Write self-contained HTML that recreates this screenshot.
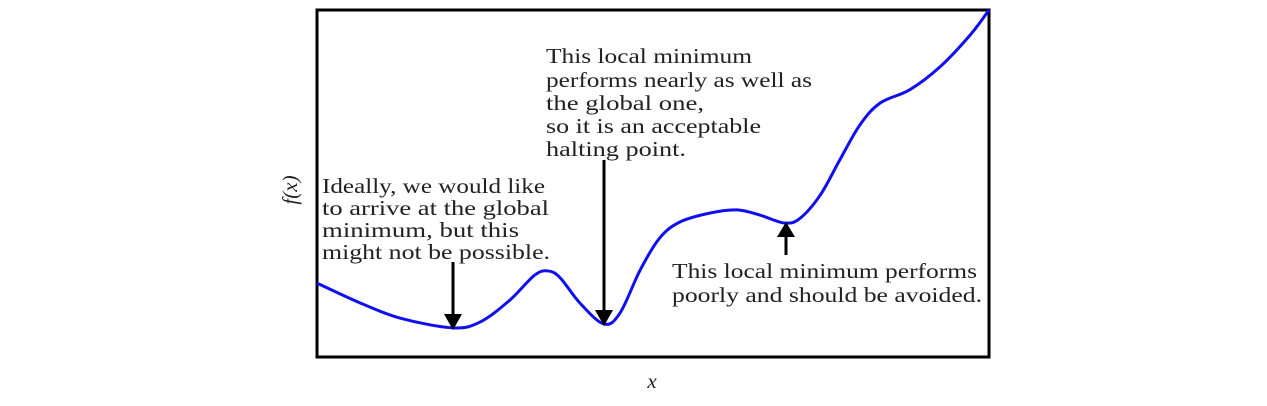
<!DOCTYPE html>
<html><head><meta charset="utf-8"><style>
body{margin:0;background:#fff}
svg text{font-family:"Liberation Serif",serif;font-size:21px;fill:#222}
</style></head><body>
<svg width="1267" height="401">
<rect x="317" y="10" width="672" height="347" fill="none" stroke="#000" stroke-width="3"/>
<path id="curve" fill="none" stroke="#1010ee" stroke-width="3"/>
<g><line x1="453" y1="262" x2="453" y2="314" stroke="#000" stroke-width="3"/><path d="M444,314 L462,314 L453,330z" fill="#000"/></g>
<g><line x1="604" y1="160" x2="604" y2="310" stroke="#000" stroke-width="3"/><path d="M595,310 L613,310 L604,326z" fill="#000"/></g>
<g><line x1="786" y1="255" x2="786" y2="236" stroke="#000" stroke-width="3"/><path d="M777,237 L795,237 L786,222z" fill="#000"/></g>
<g>
<text x="322" y="193" textLength="223" lengthAdjust="spacingAndGlyphs">Ideally, we would like</text><text x="322" y="215" textLength="227" lengthAdjust="spacingAndGlyphs">to arrive at the global</text><text x="322" y="237" textLength="197" lengthAdjust="spacingAndGlyphs">minimum, but this</text><text x="322" y="259" textLength="228" lengthAdjust="spacingAndGlyphs">might not be possible.</text></g>
<g>
<text x="546" y="63" textLength="206" lengthAdjust="spacingAndGlyphs">This local minimum</text><text x="546" y="87" textLength="266" lengthAdjust="spacingAndGlyphs">performs nearly as well as</text><text x="546" y="110" textLength="158" lengthAdjust="spacingAndGlyphs">the global one,</text><text x="546" y="133" textLength="215" lengthAdjust="spacingAndGlyphs">so it is an acceptable</text><text x="546" y="156" textLength="140" lengthAdjust="spacingAndGlyphs">halting point.</text></g>
<g>
<text x="672" y="278" textLength="305" lengthAdjust="spacingAndGlyphs">This local minimum performs</text><text x="672" y="302" textLength="310" lengthAdjust="spacingAndGlyphs">poorly and should be avoided.</text></g>
<text x="652" y="388" text-anchor="middle" font-style="italic">x</text>
<text transform="translate(297,190) rotate(-90)" text-anchor="middle" font-style="italic">f(x)</text>
</svg>
<script>
const xs=[0,0.64,1.24,2.02,2.43,2.87,3.24,3.44,3.62,3.91,4.27,4.51,4.81,5.10,5.40,5.85,6.25,6.59,6.96,7.19,7.49,7.78,8.08,8.38,8.82,9.27,9.72,10];
const ys=[2.13,1.56,1.12,0.84,1.01,1.64,2.36,2.48,2.28,1.56,0.95,1.27,2.51,3.43,3.89,4.15,4.24,4.09,3.86,4.00,4.67,5.68,6.69,7.32,7.70,8.36,9.28,10];
const sx=v=>317+v*67.2, sy=v=>357-v*34.7;
const P=xs.map((x,i)=>[sx(x),sy(ys[i])]);
let d=`M${P[0][0]},${P[0][1]}`;
for(let i=0;i<P.length-1;i++){
 const p0=P[Math.max(0,i-1)],p1=P[i],p2=P[i+1],p3=P[Math.min(P.length-1,i+2)];
 const c1=[p1[0]+(p2[0]-p0[0])/6,p1[1]+(p2[1]-p0[1])/6];
 const c2=[p2[0]-(p3[0]-p1[0])/6,p2[1]-(p3[1]-p1[1])/6];
 d+=` C${c1[0]},${c1[1]} ${c2[0]},${c2[1]} ${p2[0]},${p2[1]}`;
}
document.getElementById('curve').setAttribute('d',d);
</script>
</body></html>
